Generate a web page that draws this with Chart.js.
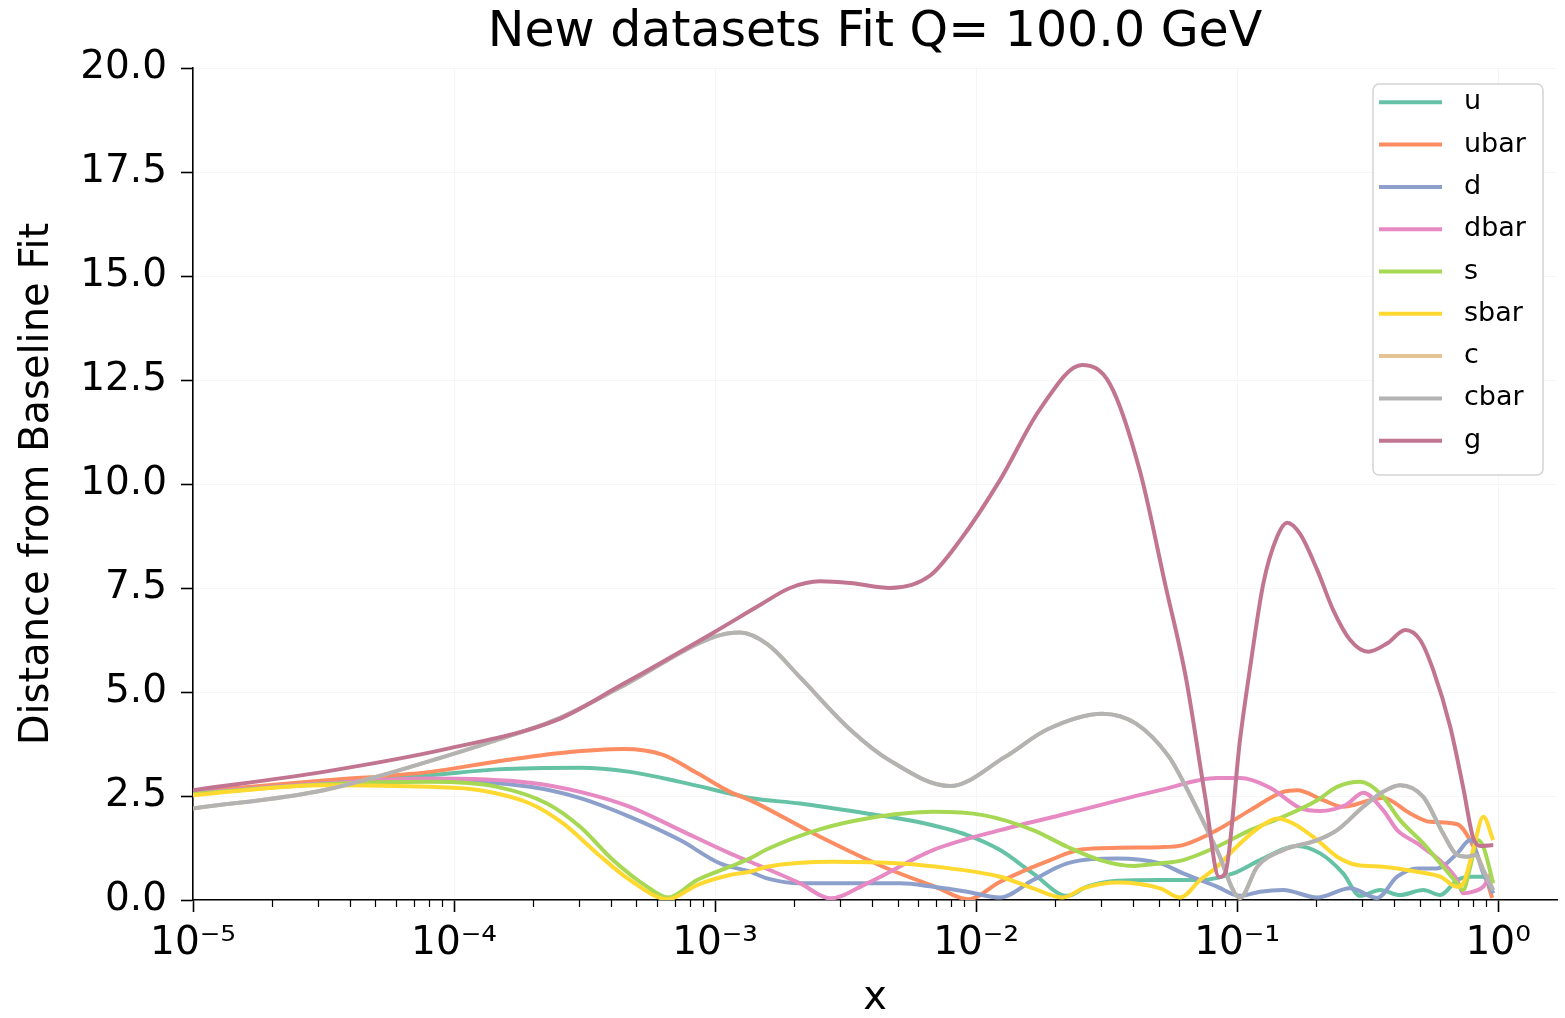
<!DOCTYPE html>
<html>
<head>
<meta charset="utf-8">
<title>New datasets Fit Q= 100.0 GeV</title>
<script src="https://cdn.jsdelivr.net/npm/chart.js@4.4.1/dist/chart.umd.min.js"></script>
<style>
  html, body { margin: 0; padding: 0; background: #fff; }
  canvas { display: block; }
</style>
</head>
<body>
<canvas id="pdf-chart" width="1565" height="1018"></canvas>
<script>
const titleText = 'New datasets Fit Q= 100.0 GeV';
const names = ['u', 'ubar', 'd', 'dbar', 's', 'sbar', 'c', 'cbar', 'g'];
const colors = ['#66c2a5', '#fc8d62', '#8da0cb', '#e78ac3', '#a6d854', '#ffd92f', '#e5c494', '#b3b3b3', '#c27590'];

// x positions are kept as log10(x), values are distance from baseline fit
const uLogX = [-5, -4.5, -4.092, -3.835, -3.517, -3.326, -3.134, -2.943, -2.866, -2.674, -2.418, -2.226, -2.034, -1.908, -1.782, -1.651, -1.575, -1.46, -1.295, -1.142, -1.015, -0.912, -0.77, -0.682, -0.594, -0.529, -0.452, -0.376, -0.287, -0.222, -0.157, -0.107, -0.057, -0.019];
const uY = [2.58, 2.83, 3.0, 3.14, 3.18, 3.08, 2.84, 2.56, 2.45, 2.32, 2.08, 1.88, 1.56, 1.2, 0.64, 0.1, 0.32, 0.46, 0.48, 0.48, 0.64, 0.96, 1.3, 1.12, 0.64, 0.1, 0.24, 0.12, 0.24, 0.12, 0.48, 0.56, 0.56, 0.16];

const ubarLogX = [-5, -4.5, -4.092, -3.835, -3.582, -3.352, -3.199, -3.069, -2.943, -2.866, -2.598, -2.356, -2.15, -2.03, -1.908, -1.716, -1.59, -1.295, -1.207, -1.077, -0.95, -0.824, -0.77, -0.67, -0.594, -0.49, -0.441, -0.337, -0.261, -0.157, -0.1, -0.05, -0.023];
const ubarY = [2.6, 2.87, 3.08, 3.33, 3.54, 3.63, 3.49, 3.05, 2.6, 2.4, 1.52, 0.8, 0.3, 0.02, 0.44, 0.96, 1.22, 1.27, 1.32, 1.68, 2.16, 2.6, 2.64, 2.4, 2.24, 2.4, 2.45, 2.08, 1.88, 1.82, 1.35, 0.6, 0.05];

const dLogX = [-5, -4.5, -4.092, -3.709, -3.517, -3.326, -3.134, -2.981, -2.866, -2.801, -2.674, -2.291, -2.165, -2.034, -1.908, -1.782, -1.651, -1.46, -1.295, -1.207, -1.077, -0.989, -0.912, -0.824, -0.693, -0.567, -0.464, -0.387, -0.31, -0.234, -0.157, -0.107, -0.057, -0.019];
const dY = [2.56, 2.8, 2.88, 2.72, 2.45, 2.0, 1.44, 0.88, 0.68, 0.52, 0.4, 0.4, 0.32, 0.2, 0.06, 0.48, 0.88, 1.0, 0.88, 0.64, 0.32, 0.1, 0.2, 0.24, 0.06, 0.28, 0.05, 0.56, 0.76, 0.76, 1.12, 1.44, 0.64, 0.16];

const dbarLogX = [-5, -4.5, -4.092, -3.709, -3.517, -3.326, -3.134, -2.943, -2.866, -2.674, -2.559, -2.418, -2.165, -1.908, -1.651, -1.295, -1.077, -0.989, -0.874, -0.759, -0.682, -0.582, -0.517, -0.441, -0.387, -0.31, -0.211, -0.157, -0.134, -0.096, -0.057, -0.027];
const dbarY = [2.57, 2.8, 2.92, 2.82, 2.6, 2.24, 1.68, 1.12, 0.92, 0.4, 0.04, 0.4, 1.2, 1.68, 2.08, 2.64, 2.93, 2.93, 2.7, 2.21, 2.14, 2.29, 2.58, 2.16, 1.68, 1.36, 0.88, 0.48, 0.16, 0.2, 0.32, 0.64];

const sLogX = [-5, -4.5, -4.092, -3.835, -3.644, -3.517, -3.391, -3.261, -3.18, -3.069, -2.943, -2.866, -2.801, -2.609, -2.418, -2.165, -1.973, -1.782, -1.651, -1.525, -1.398, -1.295, -1.207, -1.077, -0.95, -0.824, -0.693, -0.617, -0.529, -0.452, -0.376, -0.287, -0.211, -0.157, -0.134, -0.107, -0.08, -0.057, -0.019];
const sY = [2.55, 2.78, 2.84, 2.72, 2.32, 1.76, 0.96, 0.32, 0.06, 0.48, 0.8, 1.0, 1.22, 1.68, 1.96, 2.12, 2.04, 1.68, 1.28, 0.96, 0.82, 0.88, 0.96, 1.28, 1.68, 2.0, 2.4, 2.72, 2.84, 2.56, 1.92, 1.36, 0.8, 0.4, 0.24, 0.8, 1.44, 1.28, 0.4];

const sbarLogX = [-5, -4.5, -4.092, -3.9, -3.709, -3.582, -3.452, -3.326, -3.18, -3.069, -2.943, -2.866, -2.801, -2.548, -2.291, -2.1, -1.908, -1.782, -1.667, -1.59, -1.46, -1.295, -1.218, -1.142, -1.077, -0.989, -0.912, -0.847, -0.785, -0.693, -0.617, -0.54, -0.441, -0.31, -0.222, -0.157, -0.134, -0.096, -0.057, -0.019];
const sbarY = [2.52, 2.76, 2.72, 2.64, 2.32, 1.84, 1.12, 0.48, 0.02, 0.36, 0.6, 0.68, 0.8, 0.92, 0.88, 0.76, 0.56, 0.28, 0.06, 0.28, 0.42, 0.28, 0.06, 0.48, 0.8, 1.36, 1.76, 1.96, 1.84, 1.44, 1.04, 0.84, 0.8, 0.68, 0.56, 0.32, 0.4, 1.2, 2.0, 1.44];

const cbarLogX = [-5, -4.5, -4.015, -3.835, -3.605, -3.37, -3.0, -2.904, -2.8, -2.674, -2.483, -2.33, -2.1, -1.889, -1.728, -1.517, -1.387, -1.261, -1.207, -1.077, -0.989, -0.923, -0.824, -0.693, -0.617, -0.517, -0.441, -0.376, -0.287, -0.211, -0.157, -0.119, -0.088, -0.057, -0.019];
const cbarY = [2.2, 2.64, 3.49, 3.85, 4.35, 5.09, 6.33, 6.43, 6.15, 5.35, 4.1, 3.35, 2.74, 3.44, 4.1, 4.48, 4.24, 3.44, 2.85, 1.2, 0.05, 0.8, 1.2, 1.44, 1.68, 2.24, 2.6, 2.76, 2.48, 1.6, 1.08, 1.04, 1.08, 0.72, 0.24];

// c lies exactly underneath cbar in the picture
const cLogX = cbarLogX;
const cY = cbarY;

const gLogX = [-5, -4.5, -4.015, -3.605, -3.37, -3.0, -2.828, -2.713, -2.598, -2.483, -2.33, -2.176, -2.061, -1.908, -1.755, -1.594, -1.487, -1.372, -1.276, -1.195, -1.123, -1.069, -1.046, -0.989, -0.95, -0.9, -0.847, -0.808, -0.759, -0.693, -0.632, -0.567, -0.498, -0.425, -0.356, -0.299, -0.249, -0.184, -0.134, -0.096, -0.069, -0.019];
const gY = [2.64, 3.08, 3.65, 4.33, 5.13, 6.45, 7.09, 7.5, 7.66, 7.62, 7.5, 7.8, 8.65, 10.1, 11.8, 12.86, 12.4, 10.3, 7.6, 5.3, 2.5, 0.55, 0.64, 3.85, 5.6, 7.6, 8.73, 9.07, 8.8, 7.93, 6.97, 6.25, 5.97, 6.17, 6.49, 6.25, 5.53, 4.17, 2.7, 1.5, 1.3, 1.32];

const xMajor = [1e-5, 1e-4, 1e-3, 1e-2, 1e-1, 1];
const xTickLabels = ['10\u207B\u2075', '10\u207B\u2074', '10\u207B\u00B3', '10\u207B\u00B2', '10\u207B\u00B9', '10\u2070'];

const series = [[uLogX, uY], [ubarLogX, ubarY], [dLogX, dY], [dbarLogX, dbarY], [sLogX, sY],
                [sbarLogX, sbarY], [cLogX, cY], [cbarLogX, cbarY], [gLogX, gY]];

const xTicks = [];
xMajor.forEach((m, i) => {
  xTicks.push({ value: m, major: true });
  if (i < xMajor.length - 1) for (let k = 2; k <= 9; k++) xTicks.push({ value: k * m, major: false });
});

Chart.defaults.font.family = "'DejaVu Sans', sans-serif";
Chart.defaults.color = '#000';

// title centred over the axes, like matplotlib does
const axesTitle = {
  id: 'axesTitle',
  afterDraw(chart) {
    const ctx = chart.ctx, a = chart.chartArea;
    ctx.save();
    ctx.font = "49px 'DejaVu Sans'";
    ctx.fillStyle = '#000';
    ctx.textAlign = 'center';
    ctx.textBaseline = 'middle';
    ctx.fillText(titleText, (a.left + a.right) / 2, 33);
    ctx.restore();
  }
};

const minorTicks = {
  id: 'minorTicks',
  afterDraw(chart) {
    const s = chart.scales.x, ctx = chart.ctx;
    ctx.save();
    ctx.strokeStyle = '#000';
    ctx.lineWidth = 1.2;
    s.ticks.forEach(t => {
      if (t.major) return;
      const px = Math.round(s.getPixelForValue(t.value)) + 0.5;
      ctx.beginPath();
      ctx.moveTo(px, s.top);
      ctx.lineTo(px, s.top + 7);
      ctx.stroke();
    });
    ctx.restore();
  }
};

const boxLegend = {
  id: 'boxLegend',
  afterDraw(chart) {
    const ctx = chart.ctx, right = chart.chartArea.right - 14;
    const left = right - 170, top = 84;
    ctx.save();
    ctx.beginPath();
    ctx.roundRect(left, top, 170, 391, 6);
    ctx.fillStyle = 'rgba(255,255,255,0.8)';
    ctx.fill();
    ctx.strokeStyle = '#d4d4d4';
    ctx.lineWidth = 1.5;
    ctx.stroke();
    ctx.font = "27px 'DejaVu Sans'";
    ctx.textBaseline = 'middle';
    names.forEach((n, i) => {
      const y = top + 18.3 + i * 42.3;
      ctx.strokeStyle = colors[i];
      ctx.lineWidth = 4;
      ctx.beginPath();
      ctx.moveTo(left + 6, y);
      ctx.lineTo(left + 69, y);
      ctx.stroke();
      ctx.fillStyle = '#000';
      ctx.fillText(n, left + 91, y);
    });
    ctx.restore();
  }
};

new Chart(document.getElementById('pdf-chart'), {
  type: 'line',
  data: {
    datasets: series.map(([lx, ys], i) => ({
      label: names[i],
      data: lx.map((e, k) => ({ x: Math.pow(10, e), y: ys[k] })),
      borderColor: colors[i],
      backgroundColor: colors[i],
      borderWidth: 4,
      pointRadius: 0,
      fill: false,
      cubicInterpolationMode: 'monotone',
      order: names.length - 1 - i
    }))
  },
  options: {
    responsive: false,
    animation: false,
    layout: { padding: { left: 0, right: 8, top: 68, bottom: 0 } },
    plugins: {
      legend: { display: false },
      tooltip: { enabled: false },
      title: { display: false }
    },
    scales: {
      x: {
        type: 'logarithmic',
        min: 1e-5,
        max: 1.68,
        afterFit: s => { s.height = 118; },
        afterBuildTicks: s => { s.ticks = xTicks.map(t => ({ value: t.value, major: t.major })); },
        border: { display: true, color: '#000', width: 1.6 },
        grid: {
          color: c => (c.tick && c.tick.major ? 'rgba(0,0,0,0.035)' : 'rgba(0,0,0,0)'),
          tickColor: c => (c.tick && c.tick.major ? '#000' : 'rgba(0,0,0,0)'),
          tickLength: 12,
          tickWidth: 1.6
        },
        ticks: {
          autoSkip: false,
          maxRotation: 0,
          padding: 8,
          font: { size: 39 },
          color: '#000',
          callback: value => {
            const k = xMajor.indexOf(value);
            return k >= 0 ? xTickLabels[k] : '';
          }
        },
        title: { display: true, text: 'x', font: { size: 40 }, color: '#000', padding: { top: 0, bottom: -5 } }
      },
      y: {
        min: 0,
        max: 20,
        afterFit: s => { s.width = 193; },
        border: { display: true, color: '#000', width: 1.6 },
        grid: { color: 'rgba(0,0,0,0.035)', tickColor: '#000', tickLength: 12, tickWidth: 1.6 },
        ticks: {
          stepSize: 2.5,
          padding: 14,
          font: { size: 39 },
          color: '#000',
          callback: v => v.toFixed(1)
        },
        title: { display: true, text: 'Distance from Baseline Fit', font: { size: 40 }, color: '#000', padding: { top: 14, bottom: 0 } }
      }
    }
  },
  plugins: [axesTitle, minorTicks, boxLegend]
});
</script>
</body>
</html>
